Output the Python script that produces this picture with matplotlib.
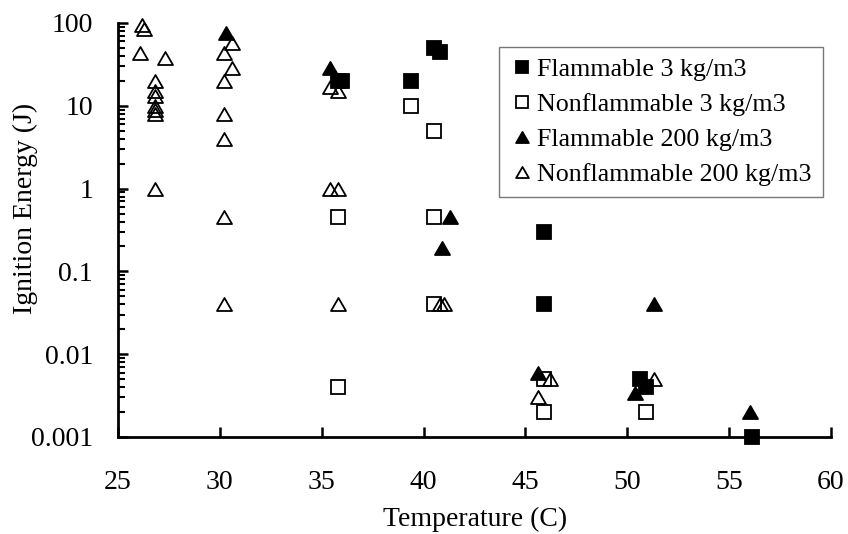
import matplotlib
matplotlib.use("Agg")
import matplotlib.pyplot as plt
from matplotlib.path import Path
from matplotlib.ticker import LogLocator, FixedLocator, FixedFormatter, NullFormatter

plt.rcParams['font.family'] = ['Liberation Serif', 'DejaVu Serif']

# Ignition energy measurements (temperature in C, energy in J)
flam3_t = [36.0, 35.8, 39.4, 40.5, 40.8, 45.9, 45.9, 50.6, 50.9, 56.1]
flam3_e = [20, 20, 20, 50, 45, 0.3, 0.04, 0.005, 0.004, 0.001]

nonflam3_t = [39.4, 40.5, 35.8, 40.5, 40.5, 35.8, 45.9, 45.9, 50.9]
nonflam3_e = [10, 5, 0.45, 0.45, 0.04, 0.004, 0.005, 0.002, 0.002]

flam200_t = [30.3, 35.4, 41.3, 40.9, 45.6, 50.4, 51.3, 56.0]
flam200_e = [75, 29, 0.45, 0.19, 0.006, 0.0034, 0.04, 0.002]

nonflam200_t = [26.2, 26.3, 26.1, 27.3, 26.8, 26.8, 26.8, 26.8, 26.8, 26.8, 26.8,
                30.6, 30.2, 30.6, 30.2, 30.2, 30.2, 30.2, 30.2,
                35.4, 35.8, 35.4, 35.8, 35.8, 40.8, 41.0,
                46.2, 45.6, 51.3]
nonflam200_e = [95, 85, 44, 38, 20, 15, 13, 10, 9, 8, 1,
                58, 44, 29, 20, 8, 4, 0.45, 0.04,
                17, 15, 1, 1, 0.04, 0.04, 0.04,
                0.005, 0.003, 0.005]

x_ticks = [25, 30, 35, 40, 45, 50, 55, 60]
y_ticks = [0.001, 0.01, 0.1, 1, 10, 100]
y_tick_labels = ["0.001", "0.01", "0.1", "1", "10", "100"]

W, H = 848, 534
fig = plt.figure(figsize=(W / 100, H / 100), dpi=100)
ax = fig.add_axes([118 / W, 1 - 437 / H, (831 - 118) / W, (437 - 23) / H])

# equilateral triangle marker, centred on its bounding box
tri = Path([(-0.5, -0.433), (0.5, -0.433), (0.0, 0.433), (-0.5, -0.433)],
           [Path.MOVETO, Path.LINETO, Path.LINETO, Path.CLOSEPOLY])

common = dict(linestyle='none', clip_on=False, markeredgecolor='black', markeredgewidth=1.3)
ax.plot(flam3_t, flam3_e, marker='s', markersize=9.8, markerfacecolor='black',
        label='Flammable 3 kg/m3', **common)
ax.plot(nonflam3_t, nonflam3_e, marker='s', markersize=9.8, markerfacecolor='white',
        label='Nonflammable 3 kg/m3', **common)
ax.plot(flam200_t, flam200_e, marker=tri, markersize=10.8, markerfacecolor='black',
        label='Flammable 200 kg/m3', **common)
ax.plot(nonflam200_t, nonflam200_e, marker=tri, markersize=10.8, markerfacecolor='none',
        label='Nonflammable 200 kg/m3', **common)

ax.set_yscale('log')
ax.set_xlim(25, 60)
ax.set_ylim(0.001, 100)

ax.xaxis.set_major_locator(FixedLocator(x_ticks))
ax.yaxis.set_major_locator(FixedLocator(y_ticks))
ax.yaxis.set_major_formatter(FixedFormatter(y_tick_labels))
ax.yaxis.set_minor_locator(LogLocator(base=10, subs=range(2, 10), numticks=20))
ax.yaxis.set_minor_formatter(NullFormatter())

for side in ('top', 'right'):
    ax.spines[side].set_visible(False)
for side in ('left', 'bottom'):
    ax.spines[side].set_linewidth(2)

fs = 20
ax.tick_params(axis='both', which='major', direction='in', length=7, width=1.8,
               labelsize=fs)
ax.tick_params(axis='x', which='major', pad=24)
ax.tick_params(axis='y', which='major', pad=18)
ax.tick_params(axis='y', which='minor', direction='in', length=5, width=1.5)

fig.text(475 / W, 1 - 519 / H, 'Temperature (C)', fontsize=fs, ha='center', va='center')
fig.text(25 / W, 1 - 208 / H, 'Ignition Energy (J)', fontsize=fs, ha='center', va='center',
         rotation=90)

leg = ax.legend(loc='upper left', bbox_to_anchor=(499 / W, 1 - 47 / H),
                bbox_transform=fig.transFigure, borderaxespad=0, fontsize=18.7,
                frameon=True, fancybox=False, markerscale=0.85, handlelength=0.95,
                handletextpad=0.1, labelspacing=0.46, borderpad=0.42)
leg.get_frame().set_edgecolor('#555555')
leg.get_frame().set_linewidth(1.0)

fig.savefig('out.png', dpi=100)
